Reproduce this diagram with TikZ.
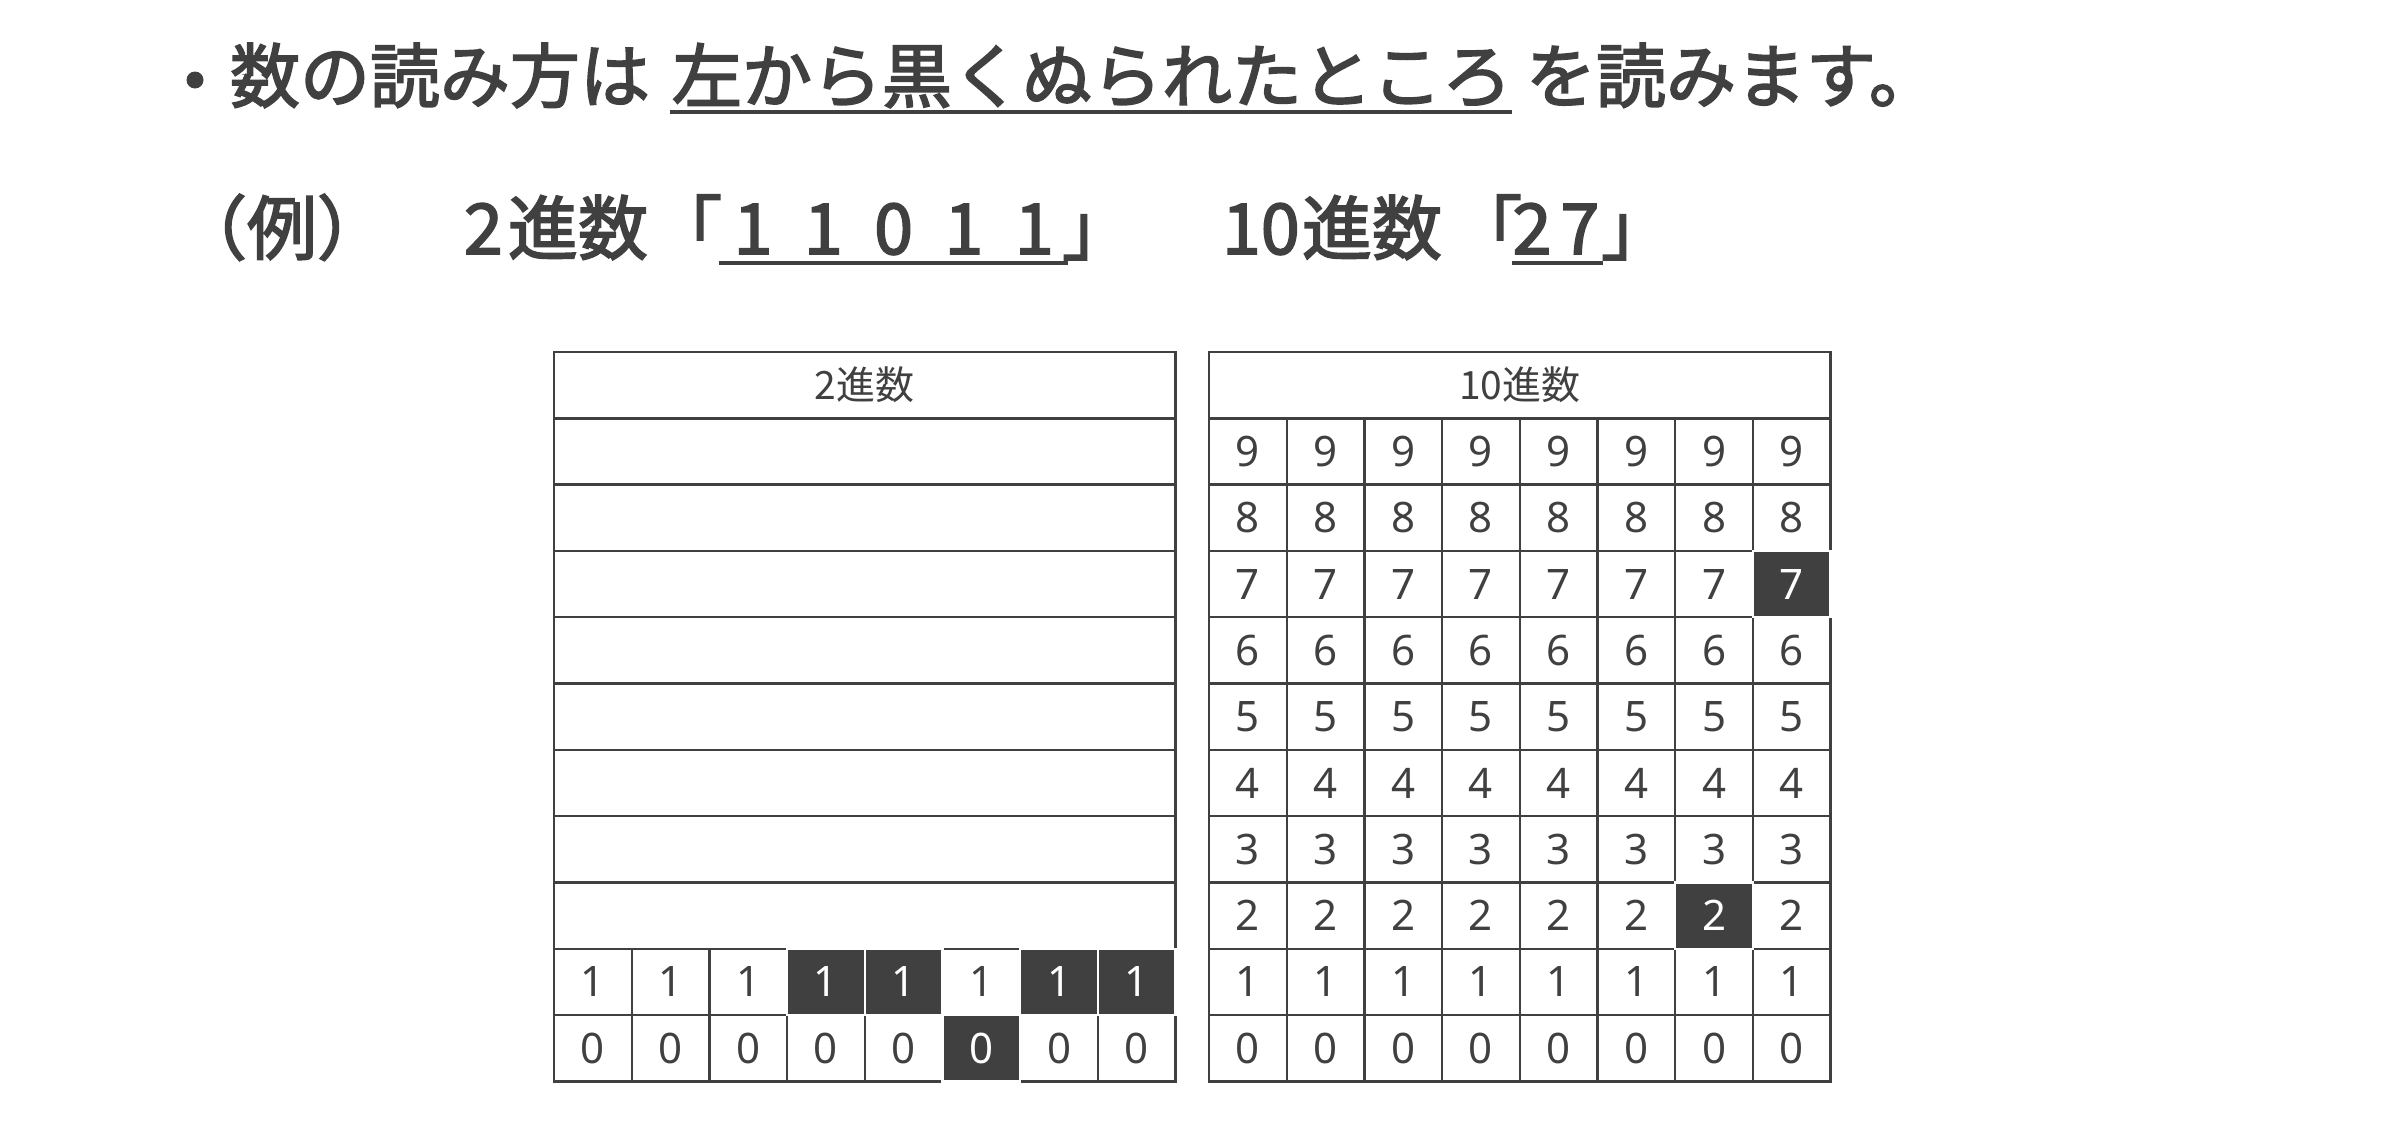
\documentclass[tikz,border=0pt]{standalone}
\usepackage{fontspec}
\setmainfont{Noto Sans CJK JP}
\newfontfamily\jpf[FakeBold=2.5]{Noto Sans CJK JP}
\newfontfamily\jpn{Noto Sans CJK JP}
\newfontfamily\numf{Noto Sans}
\usetikzlibrary{calc}
\definecolor{ink}{HTML}{404040}
\begin{document}
\begin{tikzpicture}[x=1pt,y=-1pt,
  tx/.style={inner sep=0pt, outer sep=0pt, text=ink, font=\jpf\fontsize{70pt}{80pt}\selectfont, anchor=base west},
  ul/.style={draw=ink, line width=4pt},
  cell/.style={draw=ink, line width=2.4pt, minimum width=77.7pt, minimum height=66.3pt, inner sep=0pt, text=ink, font=\numf\fontsize{42pt}{50pt}\selectfont},
  dcell/.style={cell, draw=white, fill=ink, text=white},
  wide/.style={draw=ink, line width=2.4pt, minimum width=621.6pt, minimum height=66.3pt, inner sep=0pt, text=ink, font=\jpn\fontsize{39pt}{46pt}\selectfont}
]
\useasboundingbox[fill=white] (0,0) rectangle (2400,1127);

% line 1
\node[circle, fill=ink, minimum size=17pt, inner sep=0pt] (bul) at (195,80) {};
\node[tx] (t1) at (230,102) {数の読み方は};
\node[tx] (t2) at (672,102) {左から黒くぬられたところ};
\node[tx] (t3) at (1526,102) {を読みます。};
\draw[ul] ($(t2.base west)+(-2,10)$) -- ($(t2.base east)+(0,10)$);

% line 2
\node[tx] (ex) at (177,254) {（例）};
\node[tx] (b1n) at (464,254) {2};
\node[tx] (b1k) at (508,254) {進数};
\node[tx] (b1o) at (652,254) {「};
\node[tx] (dg) at (717.9,254) {\makebox[70.3pt]{1}\makebox[70.3pt]{1}\makebox[70.3pt]{0}\makebox[70.3pt]{1}\makebox[70.3pt]{1}};
\node[tx] (e1) at (1062,254) {」};
\draw[ul] ($(dg.base west)+(1,9)$) -- ($(dg.base east)+(-1,9)$);
\node[tx] (b2n) at (1222,254) {10};
\node[tx] (b2k) at (1302,254) {進数};
\node[tx] (b2o) at (1452,254) {「};
\node[tx] (d2) at (1508,254) {\makebox[48pt]{2}\makebox[48pt]{7}};
\node[tx] (e2) at (1601,254) {」};
\draw[ul] ($(d2.base west)+(4,9)$) -- ($(d2.base east)+(-1,9)$);

% left table
\node[wide] (bh) at (864.8,385.15) {2進数};
\foreach \r in {1,...,8}{
  \node[wide] (bw\r) at (864.8,{352+(\r+0.5)*66.3}) {};
}
\foreach \c in {1,2,3,6}{
  \node[cell] (b1-\c) at ({554+(\c-0.5)*77.7},{352+9.5*66.3}) {1};
}
\foreach \c in {1,2,3,4,5,7,8}{
  \node[cell] (b0-\c) at ({554+(\c-0.5)*77.7},{352+10.5*66.3}) {0};
}
\foreach \c in {4,5,7,8}{
  \node[dcell] (b1-\c) at ({554+(\c-0.5)*77.7},{352+9.5*66.3}) {1};
}
\node[dcell] (b0-6) at ({554+5.5*77.7},{352+10.5*66.3}) {0};

% right table
\node[wide] (dh) at (1519.8,385.15) {10進数};
\foreach \v in {0,...,9}{
  \foreach \c in {1,...,8}{
    \pgfmathtruncatemacro{\isdark}{or(and(\v==7,\c==8),and(\v==2,\c==7))}
    \ifnum\isdark=0
      \node[cell] (d\v-\c) at ({1209+(\c-0.5)*77.7},{352+(10-\v+0.5)*66.3}) {\v};
    \fi
  }
}
\node[dcell] (d7-8) at ({1209+7.5*77.7},{352+3.5*66.3}) {7};
\node[dcell] (d2-7) at ({1209+6.5*77.7},{352+8.5*66.3}) {2};
\end{tikzpicture}
\end{document}
